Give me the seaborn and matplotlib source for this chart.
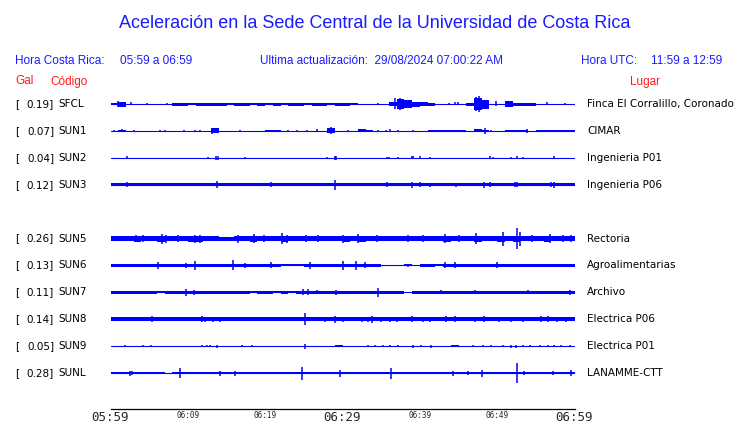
import numpy as np
import pandas as pd
import seaborn as sns
import matplotlib.pyplot as plt
import matplotlib.transforms as mtransforms

# station table
codes = ['SFCL', 'SUN1', 'SUN2', 'SUN3', 'SUN5', 'SUN6', 'SUN7', 'SUN8', 'SUN9', 'SUNL']
gal = [0.19, 0.07, 0.04, 0.12, 0.26, 0.13, 0.11, 0.14, 0.05, 0.28]
places = ['Finca El Corralillo, Coronado', 'CIMAR', 'Ingenieria P01', 'Ingenieria P06',
          'Rectoria', 'Agroalimentarias', 'Archivo', 'Electrica P06', 'Electrica P01',
          'LANAMME-CTT']
slot = [0, 1, 2, 3, 5, 6, 7, 8, 9, 10]   # SUN4 row is empty

# trace envelope (half height, px) per minute
env_SFCL = [1, 2.5, 0.5, 0, 0, 0, 0, 0, 1.5, 1.5,
            1.2, 1.5, 1.5, 1.5, 1.5, 1.2, 1.5, 1.5, 1.2, 1.5,
            1.2, 1.5, 1.2, 1.5, 1.5, 1.2, 1.5, 1.5, 1.2, 1.5,
            1.5, 1, 0, 0, 0, 0, 2, 5, 4, 2.5,
            1.7, 1.5, 0, 0, 0, 0, 1.5, 6, 4.5, 0,
            0, 3, 1.5, 1.5, 1.5, 0, 0, 0, 0, 0]
env_SUN1 = [0, 1, 0, 0, 0, 0, 0, 0, 0, 0,
            0, 0, 0, 2.5, 0, 0, 0, 0, 0, 0,
            1, 1, 0, 0, 0, 0, 0, 0, 2.5, 0,
            0, 0, 1.5, 1, 0, 0, 0, 0, 0, 0,
            0, 1, 1, 1, 1, 1, 0, 1.5, 1, 0,
            0, 1.2, 1, 1, 0, 1, 1, 0.8, 1, 1]
env_SUN2 = [0, 0, 0, 0, 0, 0, 0, 0, 0, 0,
            0, 0, 0, 0, 0, 0, 0, 0, 0, 0,
            0, 0, 0, 0, 0, 0, 0, 0, 0, 0,
            0, 0, 0, 0, 0, 0, 0, 0, 0, 0,
            0, 0, 0, 0, 0, 0, 0, 0, 0, 0,
            0, 0, 0, 0, 0, 0, 0, 0, 0, 0]
env_SUN3 = [1.8, 1.8, 1.8, 1.5, 1.8, 1.5, 1.8, 1.8, 1.5, 1.8,
            1.8, 1.8, 1.8, 1.8, 1.8, 1.8, 1.8, 1.8, 1.8, 1.8,
            1.8, 1.8, 1.8, 1.8, 1.8, 1.8, 1.5, 1.8, 1.8, 1.8,
            1.8, 1.8, 1.8, 1.8, 1.8, 1.8, 1.8, 1.8, 1.8, 1.8,
            1.8, 1.8, 1.8, 1.8, 1.8, 1.8, 1.8, 1.8, 1.8, 1.8,
            1.8, 1.8, 1.8, 1.8, 1.8, 1.8, 1.8, 1.8, 1.8, 1.8]
env_SUN5 = [2.7, 2.7, 2.7, 3, 2.7, 2.7, 3, 2.7, 2.7, 2.7,
            3, 3, 2.7, 2.7, 2, 2, 2.7, 2.7, 3, 2.7,
            2.7, 2.7, 3, 2.7, 2.7, 2.7, 2.7, 2.7, 2.7, 2.7,
            3, 2.7, 3, 2.7, 2.7, 2.7, 2.2, 2.2, 2.7, 2.7,
            2.7, 2.7, 2.7, 3, 2.7, 2.7, 2.7, 3, 2.7, 2.7,
            3, 2.7, 3, 2.7, 2.7, 2.7, 3, 2.7, 2.7, 2.7]
env_SUN6 = [1.7, 1.7, 1.5, 1.7, 1.7, 1.7, 1.7, 1.7, 1.2, 1.5,
            1.7, 1.7, 1.7, 1.7, 1.5, 1.7, 1.7, 1.7, 1.7, 1.7,
            1.7, 1.5, 1, 1, 1, 1.7, 1.7, 1.7, 1.7, 1.7,
            1.7, 1.7, 1.7, 1.7, 1.7, 0.5, 0.5, 0.5, 1, 0.5,
            1.5, 1.5, 1, 1.5, 1.5, 1.7, 1.7, 1.7, 1.7, 1.7,
            1.7, 1.7, 1.7, 1.7, 1.7, 1.7, 1.7, 1.7, 1.7, 1.7]
env_SUN7 = [1.7, 1.7, 1.7, 1.7, 1.7, 1.7, 1.2, 1.5, 1.7, 1.7,
            1.7, 1.7, 1.7, 1.7, 1.7, 1.7, 1.7, 1.7, 1, 1.5,
            1.7, 1, 1.5, 1, 1.7, 1.7, 1.7, 1.7, 1.7, 1.7,
            1.7, 1.7, 1.7, 1.7, 1.7, 1.7, 1.7, 1.7, 0.5, 1.7,
            1.7, 1.7, 1.7, 1.7, 1.7, 1.7, 1.7, 1.7, 1.7, 1.7,
            1.7, 1.7, 1.7, 1.7, 1.7, 1.7, 1.7, 1.7, 1.7, 1.7]
env_SUN8 = [1.8, 1.8, 1.8, 1.8, 1.8, 1.8, 1.8, 1.8, 1.8, 1.8,
            1.8, 1.8, 1.8, 1.8, 1.8, 1.8, 1.8, 1.8, 1.8, 1.8,
            1.8, 1.8, 1.8, 1.8, 1.8, 1.8, 1.8, 1.8, 1.8, 1.8,
            1.8, 1.8, 1.8, 1.8, 1.8, 1.8, 1.8, 1.8, 1.8, 1.8,
            1.8, 1.8, 1.8, 1.8, 1.8, 1.8, 1.8, 1.8, 1.8, 1.8,
            1.8, 1.8, 1.8, 1.8, 1.8, 1.8, 1.8, 1.8, 1.8, 1.8]
env_SUN9 = [0, 0, 0, 0, 0, 0, 0, 0, 0, 0,
            0, 0, 0, 0, 0, 0, 0, 0, 0, 0,
            0, 0, 0, 0, 0, 0, 0, 0, 0, 1.2,
            0, 0, 0, 0, 0, 0, 0, 0, 0, 0,
            0, 0, 0, 0, 1.2, 0, 0, 0, 0, 0,
            0, 0, 0, 0, 0, 0, 0, 0, 0, 0]
env_SUNL = [1.3, 1.3, 1.3, 1.3, 1, 1.3, 1.3, 0.5, 0.7, 1.3,
            1.3, 1.3, 1.3, 1.3, 1.3, 1.3, 1.3, 1.3, 1.3, 1.3,
            1, 1.3, 1.3, 1.3, 1.3, 1.3, 1, 1.3, 1.3, 1.3,
            1.3, 1.3, 1.3, 1.3, 1.3, 1.3, 1.3, 1.3, 1.3, 1.3,
            1.3, 1.3, 1.3, 1.3, 1.3, 1.3, 1.3, 1.3, 1.3, 1.3,
            1.3, 1.3, 1.3, 1.3, 1.3, 1.3, 1.3, 1.3, 1.3, 1.3]

# isolated peaks: (minute, half height px)
spk_SFCL = [(1.0, 3), (2.6, 1.5), (4.7, 1), (7.3, 1), (34.6, 1), (36.8, 5.5), (37.4, 6),
            (43.8, 1), (44.5, 1.5), (44.9, 1.5), (47.2, 7), (47.6, 8), (49.8, 2.5),
            (51.1, 3), (56.5, 1.5), (58.8, 1)]
spk_SUN1 = [(0.4, 1.2), (1.5, 1.5), (3, 1.2), (6.4, 1), (7.1, 1), (9.5, 1), (10.9, 1.2),
            (11.6, 1.2), (13.1, 3), (16.7, 1.2), (22.9, 1), (24.1, 1), (25.4, 1),
            (26.7, 1.5), (28.5, 3.5), (30.7, 1), (34.6, 1), (35.6, 1), (36.1, 1.5),
            (37.2, 1), (39.1, 1), (48.4, 3), (49.2, 1), (53.8, 2)]
spk_SUN2 = [(2.1, 1.5), (12.6, 1.2), (13.7, 2), (13.9, 2), (17.4, 1.2), (28, 1.2),
            (29.0, 2), (29.2, 2), (35.7, 1), (36.0, 1), (37.2, 1), (39.0, 1.5),
            (39.1, 1.5), (40, 1.5), (41.3, 1), (49.1, 1.5), (49.5, 1), (51.8, 1),
            (52.6, 1.5), (53.3, 1.2), (57.4, 1.5)]
spk_SUN3 = [(2.1, 2.5), (13.8, 3.5), (20.7, 2.5), (29.0, 5), (35.7, 2.5), (39.0, 3),
            (40, 2.5), (41.3, 2), (44.7, 2), (48.3, 3), (49.1, 2.5), (52.3, 2.5),
            (52.5, 2.5), (56.9, 2.5), (57.4, 3)]
spk_SUN5 = [(3.3, 3.5), (4.2, 3.5), (6.7, 5), (7.2, 4), (8.7, 3.5), (10.9, 4), (11.6, 4),
            (16.5, 4), (18.5, 4.5), (19.8, 3.5), (22.2, 5.5), (22.8, 4), (25.3, 3.5),
            (26.8, 3.5), (30.1, 4), (32, 4.5), (34.5, 3.5), (38.5, 3.5), (40.4, 3.5),
            (43.2, 4.5), (45, 3.5), (47.3, 5.5), (50.7, 7), (52.6, 10.5), (52.9, 7),
            (54.5, 3.5), (56.8, 4.5), (58.5, 3.5), (59.5, 3.5)]
spk_SUN6 = [(6.2, 3.5), (9.7, 2.5), (10.9, 4.5), (15.9, 5), (17.4, 2.5), (20.7, 3),
            (25.8, 3.5), (30.1, 4.5), (31.7, 4.5), (32.9, 3), (38.5, 1.5), (43.2, 3),
            (44.5, 3), (50.0, 3), (54.2, 1.5)]
spk_SUN7 = [(9.7, 3.5), (10.8, 2.5), (24.9, 3), (25.6, 3), (26.7, 2), (29.2, 2.5),
            (34.6, 4.5), (42.8, 2), (47.1, 2), (54, 2), (59.4, 2.5)]
spk_SUN8 = [(2.1, 2), (5.4, 3), (7.3, 2), (9.7, 2), (11.8, 3), (12.2, 2.5), (13.2, 2.5),
            (14.2, 2.5), (17, 2), (18.7, 2), (22.4, 2), (25.2, 6), (27.7, 2.5), (29, 3.5),
            (30.1, 2.5), (32.5, 2.5), (33.3, 2.5), (33.8, 3.5), (35, 2.5), (36.1, 2.5),
            (37, 2.5), (39, 3), (40.4, 2.5), (41.3, 2.5), (43.4, 3), (44.5, 3),
            (47.1, 2.5), (48.3, 3), (50.3, 2.5), (51.8, 2.5), (53.3, 2.5), (55.7, 3),
            (56.6, 3), (57.8, 2.5), (58.9, 2.5)]
spk_SUN9 = [(1.9, 1), (4.2, 1), (5.3, 1.2), (11.8, 1), (12.5, 1), (12.9, 1), (13.8, 1.5),
            (17, 1), (18.3, 1), (25.1, 2.5), (33.3, 1), (34.2, 1), (35.3, 1), (36.1, 1),
            (37.2, 1), (39.1, 1.5), (40.2, 1), (41.5, 1.5), (46.9, 1), (48.2, 1),
            (49.2, 1), (50.8, 1), (51.8, 1.5), (52.4, 1.5), (53.3, 1), (54.2, 1),
            (55.5, 1), (56.6, 1), (57.4, 1), (58.3, 1), (59.4, 1)]
spk_SUNL = [(2.5, 2.5), (2.8, 2), (9.0, 5), (14.2, 2.5), (16.1, 2.5), (24.7, 6.5),
            (29.7, 3.5), (36.3, 5.5), (44.3, 2.5), (46.2, 2), (48.0, 3.5), (52.6, 10),
            (53.5, 2), (57.2, 2), (59.5, 3)]

envelopes = [env_SFCL, env_SUN1, env_SUN2, env_SUN3, env_SUN5,
             env_SUN6, env_SUN7, env_SUN8, env_SUN9, env_SUNL]
spikes = [spk_SFCL, spk_SUN1, spk_SUN2, spk_SUN3, spk_SUN5,
          spk_SUN6, spk_SUN7, spk_SUN8, spk_SUN9, spk_SUNL]

tick_min = list(range(0, 61, 5))
tick_txt = ['05:59', '', '06:09', '', '06:19', '', '06:29', '', '06:39', '', '06:49', '', '06:59']

sns.set_theme(style='white')
plt.rcParams['font.family'] = ['DejaVu Sans']

W, H = 740, 423
fig = plt.figure(figsize=(W / 100, H / 100), dpi=100)
# axes y data == image pixel row, so trace heights are in pixels
ax = fig.add_axes([110.5 / W, (H - 409) / H, 464 / W, 319 / H])
ax.set_xlim(0, 60)
ax.set_ylim(409, 90)

blue = '#0000ff'
row_y = [104 + s * 26.9 for s in slot]

# flat baselines through seaborn
base = pd.DataFrame({'station': np.repeat(codes, 2),
                     'minute': [0, 60] * len(codes),
                     'y': np.repeat(row_y, 2)})
sns.lineplot(data=base, x='minute', y='y', units='station', estimator=None,
             color=blue, lw=0.8, ax=ax, legend=False)

edges = np.arange(61)
for yy, env, spk in zip(row_y, envelopes, spikes):
    e = np.array(env + [env[-1]], dtype=float)
    ax.fill_between(edges, yy - e, yy + e, step='post', color=blue, lw=0,
                    antialiased=False)
    t = [p[0] for p in spk]
    h = np.array([p[1] for p in spk])
    ax.vlines(t, yy - h, yy + h, color=blue, lw=1.1)

# time axis
for s in ['top', 'left', 'right']:
    ax.spines[s].set_visible(False)
ax.spines['bottom'].set_color('black')
ax.spines['bottom'].set_linewidth(0.9)
ax.set_yticks([])
ax.set_xticks(tick_min)
ax.set_xticklabels(tick_txt, family='DejaVu Sans Mono')
ax.tick_params(axis='x', direction='in', length=6, width=0.9, color='black', pad=1.5)
for lab in ax.get_xticklabels():
    lab.set_fontsize(9 if lab.get_text() in ('05:59', '06:29', '06:59') else 5.5)
ax.set_xlabel('')
ax.set_ylabel('')

# row labels
tr = mtransforms.blended_transform_factory(fig.transFigure, ax.transData)
for yy, g, c, p in zip(row_y, gal, codes, places):
    ax.text(15 / W, yy, '[', transform=tr, va='center', ha='left', fontsize=7.5, color='black')
    ax.text(54 / W, yy, f'{g:.2f}]', transform=tr, va='center', ha='right', fontsize=7.5, color='black')
    ax.text(58 / W, yy, c, transform=tr, va='center', ha='left', fontsize=7.5, color='black')
    ax.text(587 / W, yy, p, transform=tr, va='center', ha='left', fontsize=7.5, color='black')

# header
hdr = '#1a1aff'
def ftext(x, y, s, **kw):
    fig.text(x / W, 1 - y / H, s, family='Liberation Sans', va='center', **kw)

ftext(375, 23, 'Aceleración en la Sede Central de la Universidad de Costa Rica',
      ha='center', fontsize=13, color=hdr)
ftext(15, 61.5, 'Hora Costa Rica:', fontsize=8.5, color=hdr)
ftext(120, 61.5, '05:59 a 06:59', fontsize=8.5, color=hdr)
ftext(260, 61.5, 'Ultima actualización:  29/08/2024 07:00:22 AM', fontsize=8.5, color=hdr)
ftext(581, 61.5, 'Hora UTC:', fontsize=8.5, color=hdr)
ftext(651, 61.5, '11:59 a 12:59', fontsize=8.5, color=hdr)
ftext(15, 81.5, 'Gal', fontsize=8.5, color='#ff1a1a')
ftext(50, 81.5, 'Código', fontsize=8.5, color='#ff1a1a')
ftext(630, 81.5, 'Lugar', fontsize=8.5, color='#ff1a1a')

fig.savefig('out.png', dpi=100)
